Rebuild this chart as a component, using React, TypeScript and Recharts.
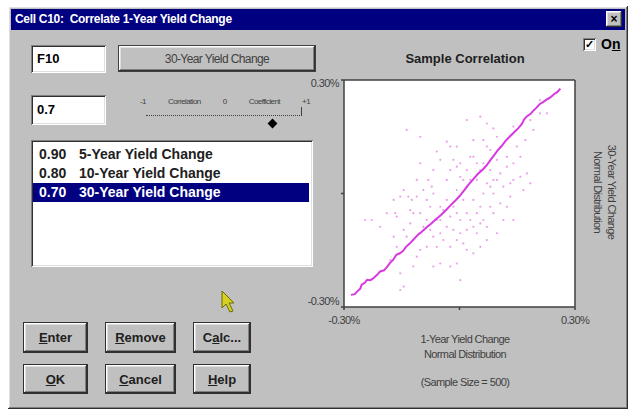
import React from 'react'
import { ScatterChart, Scatter, XAxis, YAxis, ReferenceLine, CartesianGrid } from 'recharts'

// axis ticks (percent)
const X_TICKS = [-0.3, 0, 0.3]
const Y_TICKS = [-0.3, 0, 0.3]

// list box entries
const LIST_VALUES = ['0.90', '0.80', '0.70']
const LIST_NAMES = ['5-Year Yield Change', '10-Year Yield Change', '30-Year Yield Change']

// sorted (rank) line, [1-year, 30-year]
const RANK_LINE: [number, number][] = [
  [-0.282, -0.268], [-0.272, -0.266], [-0.265, -0.258], [-0.258, -0.252], [-0.254, -0.241],
  [-0.246, -0.236], [-0.24, -0.228], [-0.231, -0.229], [-0.224, -0.224], [-0.214, -0.215],
  [-0.206, -0.206], [-0.196, -0.203], [-0.188, -0.194], [-0.181, -0.184], [-0.172, -0.175],
  [-0.164, -0.162], [-0.155, -0.158], [-0.147, -0.152], [-0.139, -0.141], [-0.128, -0.131],
  [-0.118, -0.12], [-0.108, -0.109], [-0.098, -0.101], [-0.086, -0.09], [-0.074, -0.08],
  [-0.062, -0.069], [-0.048, -0.057], [-0.036, -0.045], [-0.024, -0.032], [-0.012, -0.02],
  [0.001, -0.006], [0.012, 0.008], [0.024, 0.024], [0.036, 0.038], [0.048, 0.052],
  [0.06, 0.063], [0.07, 0.074], [0.082, 0.091], [0.092, 0.104], [0.1, 0.115],
  [0.11, 0.126], [0.118, 0.137], [0.128, 0.148], [0.136, 0.156], [0.146, 0.166],
  [0.154, 0.174], [0.162, 0.184], [0.168, 0.196], [0.174, 0.203], [0.184, 0.21],
  [0.192, 0.219], [0.2, 0.227], [0.208, 0.236], [0.216, 0.241], [0.226, 0.248],
  [0.236, 0.254], [0.246, 0.263], [0.254, 0.268], [0.262, 0.277],
]

// sample points, [1-year, 30-year]
const SAMPLES: [number, number][] = [
  [-0.245, -0.07], [-0.228, -0.07], [-0.167, -0.052], [-0.163, -0.061], [-0.154, -0.008],
  [-0.133, -0.008], [-0.124, -0.017], [-0.102, 0.08], [-0.081, 0.036], [-0.072, 0.018],
  [-0.059, 0.111], [-0.05, 0.089], [-0.033, 0.137], [-0.024, 0.124], [-0.016, 0.089],
  [-0.007, 0.071], [0.002, 0.044], [0.01, 0.036], [0.019, 0.018], [0.036, 0.097],
  [0.045, 0.08], [0.054, 0.062], [0.062, 0.141], [0.071, 0.124], [0.08, 0.115],
  [0.088, 0.172], [0.097, 0.15], [0.106, 0.124], [0.123, 0.097], [0.132, 0.027],
  [0.14, 0.036], [0.158, 0.097], [0.171, 0.141], [0.175, 0.053], [0.184, 0.194],
  [0.192, 0.168], [0.209, 0.212], [0.227, 0.212], [0.071, 0.027], [0.08, 0.018],
  [0.088, 0.0], [0.097, 0.036], [0.019, -0.052], [0.028, -0.07], [0.036, -0.088],
  [0.045, -0.052], [0.054, -0.079], [0.002, -0.105], [0.01, -0.132], [0.019, -0.149],
  [-0.007, -0.123], [-0.068, -0.114], [-0.05, -0.105], [-0.042, -0.123], [-0.059, -0.141],
  [-0.102, -0.149], [-0.111, -0.167], [-0.094, -0.088], [-0.085, -0.07], [-0.137, -0.114],
  [-0.128, -0.079], [-0.12, -0.052], [-0.05, -0.185], [-0.068, -0.193], [-0.024, -0.193],
  [-0.007, -0.185], [-0.12, -0.193], [-0.145, -0.246], [-0.154, -0.211], [0.08, -0.035],
  [0.106, -0.026], [0.062, -0.07], [0.123, -0.035], [0.14, -0.07], [0.097, -0.105],
  [0.166, 0.009], [0.184, 0.027], [-0.171, -0.114], [-0.206, -0.088], [-0.189, -0.052],
  [-0.024, -0.061], [-0.016, -0.035], [-0.033, -0.017], [-0.042, -0.044], [-0.076, -0.035],
  [-0.085, -0.017], [-0.102, -0.052], [0.036, -0.017], [0.054, -0.035], [0.028, 0.036],
  [-0.094, 0.009], [-0.111, -0.008], [-0.128, -0.044], [0.106, 0.053], [0.123, 0.071],
  [0.14, 0.08], [0.062, 0.0], [0.088, 0.036], [-0.007, 0.009], [0.01, -0.017],
  [-0.059, -0.07], [-0.033, -0.088], [-0.016, -0.096], [-0.145, -0.096], [-0.163, -0.141],
  [-0.18, -0.176], [0.036, -0.158], [0.054, -0.141], [0.071, -0.123], [0.002, -0.229],
  [-0.154, -0.255], [-0.137, 0.168], [-0.102, 0.15], [0.019, 0.194], [0.054, 0.203],
  [0.071, 0.185], [0.14, 0.177], [0.209, 0.247], [-0.05, -0.035], [-0.068, 0.0],
  [-0.033, 0.036], [-0.024, 0.062], [0.002, 0.08], [0.019, 0.062], [0.028, 0.097],
  [0.045, 0.036], [0.062, 0.08], [0.08, 0.062], [0.097, 0.089], [0.114, 0.018],
  [-0.007, -0.052], [0.002, -0.07], [-0.05, -0.07], [-0.076, -0.096], [-0.102, -0.105],
  [-0.12, -0.123], [-0.085, -0.141], [-0.024, -0.141], [0.019, -0.096], [0.045, -0.105],
  [0.071, -0.088], [0.088, -0.052], [0.114, -0.07], [0.132, -0.008], [0.158, 0.044],
  [0.149, 0.124], [0.036, 0.141], [-0.007, 0.124], [-0.068, 0.062], [-0.111, 0.036],
  [-0.145, 0.009], [-0.171, -0.017],
]

const GRAY = '#c0c0c0'
const NAVY = '#000080'
const UI_FONT = '"Liberation Sans", Arial, sans-serif'

const raised: React.CSSProperties = {
  background: GRAY,
  boxShadow: 'inset -1px -1px #303030, inset 1px 1px #ffffff, inset -2px -2px #808080, inset 2px 2px #dfdfdf',
}
const sunken: React.CSSProperties = {
  background: '#fff',
  boxShadow: 'inset 1px 1px #808080, inset -1px -1px #ffffff, inset 2px 2px #303030, inset -2px -2px #dfdfdf',
}

function Btn({ x, y, w, h, children }: { x: number; y: number; w: number; h: number; children: React.ReactNode }) {
  return (
    <div
      style={{
        ...raised,
        position: 'absolute', left: x, top: y, width: w, height: h,
        display: 'flex', alignItems: 'center', justifyContent: 'center',
        fontFamily: UI_FONT, fontWeight: 'bold', fontSize: 13, color: '#202020',
        border: '1px solid #303030', boxSizing: 'border-box',
      }}
    >
      {children}
    </div>
  )
}

function YTick(props: any) {
  const { x, y, payload } = props
  const v = payload.value
  if (v === 0) return null
  const dy = v > 0 ? 7 : -2
  return (
    <text x={x} y={y + dy} textAnchor="end" fontSize={11} fill="#404040" fontFamily={UI_FONT} letterSpacing={-0.6}>
      {`${v.toFixed(2)}%`}
    </text>
  )
}

function Dot(props: any) {
  return <circle cx={props.cx} cy={props.cy} r={1.1} fill="#d860d8" fillOpacity={0.6} />
}

export default function App() {
  const lineData = RANK_LINE.map(([x, y]) => ({ x, y }))
  const sampleData = SAMPLES.map(([x, y]) => ({ x, y }))
  const small: React.CSSProperties = { fontFamily: UI_FONT, fontSize: 11, color: '#404040', letterSpacing: -0.6 }

  return (
    <div style={{ position: 'absolute', left: 0, top: 0, width: 632, height: 411, background: '#fff', overflow: 'hidden' }}>
      {/* dialog frame */}
      <div style={{ ...raised, position: 'absolute', left: 8, top: 6, width: 620, height: 403 }} />
      <div
        style={{
          position: 'absolute', left: 11, top: 9, width: 614, height: 21, background: NAVY, color: '#fff',
          fontFamily: UI_FONT, fontWeight: 'bold', fontSize: 12, lineHeight: '21px', paddingLeft: 4, boxSizing: 'border-box',
          letterSpacing: -0.3,
        }}
      >
        Cell C10:&nbsp; Correlate 1-Year Yield Change
      </div>
      <div style={{ ...raised, position: 'absolute', left: 606, top: 11, width: 16, height: 16, fontSize: 12, fontWeight: 'bold', textAlign: 'center', lineHeight: '16px', fontFamily: UI_FONT }}>
        ×
      </div>

      {/* cell reference + target */}
      <div style={{ ...sunken, position: 'absolute', left: 31, top: 45, width: 75, height: 28, fontFamily: UI_FONT, fontWeight: 'bold', fontSize: 13, lineHeight: '28px', paddingLeft: 6, boxSizing: 'border-box' }}>
        F10
      </div>
      <div
        style={{
          ...raised, position: 'absolute', left: 118, top: 45, width: 198, height: 27, border: '1px solid #404040', boxSizing: 'border-box',
          ...small, fontSize: 12, display: 'flex', alignItems: 'center', justifyContent: 'center',
        }}
      >
        30-Year Yield Change
      </div>

      {/* coefficient box + slider */}
      <div style={{ ...sunken, position: 'absolute', left: 31, top: 95, width: 75, height: 30, fontFamily: UI_FONT, fontWeight: 'bold', fontSize: 13, lineHeight: '30px', paddingLeft: 6, boxSizing: 'border-box' }}>
        0.7
      </div>
      <div style={{ ...small, fontSize: 8, position: 'absolute', left: 140, top: 97, width: 170, display: 'flex', justifyContent: 'space-between' }}>
        <span>-1</span><span>Correlation</span><span>0</span><span>Coefficient</span><span>+1</span>
      </div>
      <div style={{ position: 'absolute', left: 146, top: 115, width: 156, borderTop: '1px dotted #404040' }} />
      <div style={{ position: 'absolute', left: 301, top: 107, height: 9, borderLeft: '1px solid #404040' }} />
      <div style={{ position: 'absolute', left: 269, top: 120, width: 7, height: 7, background: '#000', transform: 'rotate(45deg)' }} />

      {/* correlation list */}
      <div style={{ ...sunken, position: 'absolute', left: 31, top: 140, width: 282, height: 127 }}>
        {LIST_VALUES.map((v, i) => (
          <div
            key={v}
            style={{
              position: 'absolute', left: 2, top: 5 + i * 19, width: 276, height: 19,
              background: i === 2 ? NAVY : 'transparent', color: i === 2 ? '#fff' : '#202020',
              fontFamily: UI_FONT, fontWeight: 'bold', fontSize: 14, lineHeight: '19px', whiteSpace: 'nowrap',
            }}
          >
            <span style={{ display: 'inline-block', width: 40, paddingLeft: 6 }}>{v}</span>
            {LIST_NAMES[i]}
          </div>
        ))}
      </div>

      {/* mouse pointer */}
      <svg style={{ position: 'absolute', left: 220, top: 290 }} width={16} height={24}>
        <polygon points="2,1 2,18 6,14 10,22 13,21 9,13 14,13" fill="#d8d020" stroke="#6a6a00" strokeWidth={1} />
      </svg>

      {/* buttons */}
      <Btn x={23} y={322} w={65} h={31}><span><u>E</u>nter</span></Btn>
      <Btn x={105} y={322} w={71} h={31}><span><u>R</u>emove</span></Btn>
      <Btn x={193} y={322} w={58} h={31}><span>C<u>a</u>lc...</span></Btn>
      <Btn x={23} y={364} w={65} h={30}><span><u>O</u>K</span></Btn>
      <Btn x={105} y={364} w={71} h={30}><span><u>C</u>ancel</span></Btn>
      <Btn x={193} y={364} w={58} h={30}><span><u>H</u>elp</span></Btn>

      {/* On checkbox */}
      <div style={{ ...sunken, position: 'absolute', left: 583, top: 38, width: 13, height: 13, fontSize: 11, lineHeight: '13px', textAlign: 'center', fontWeight: 'bold' }}>
        ✓
      </div>
      <div style={{ position: 'absolute', left: 601, top: 36, fontFamily: UI_FONT, fontWeight: 'bold', fontSize: 14 }}>
        O<u>n</u>
      </div>

      {/* chart titles */}
      <div style={{ position: 'absolute', left: 380, top: 51, width: 170, textAlign: 'center', fontFamily: UI_FONT, fontWeight: 'bold', fontSize: 13, color: '#202020' }}>
        Sample Correlation
      </div>
      <div style={{ ...small, position: 'absolute', left: 380, top: 332, width: 170, textAlign: 'center', lineHeight: '15px' }}>
        1-Year Yield Change<br />Normal Distribution
      </div>
      <div style={{ ...small, position: 'absolute', left: 380, top: 376, width: 170, textAlign: 'center' }}>
        (Sample Size = 500)
      </div>
      <div
        style={{
          ...small, position: 'absolute', left: 540, top: 178, width: 130, textAlign: 'center', lineHeight: '14px',
          transform: 'rotate(90deg)', transformOrigin: 'center',
        }}
      >
        30-Year Yield Change<br />Normal Distribution
      </div>

      <ScatterChart
        width={632}
        height={411}
        margin={{ top: 80, right: 57, left: 304, bottom: 74 }}
        style={{ position: 'absolute', left: 0, top: 0 }}
      >
        <CartesianGrid horizontal={false} vertical={false} fill="#ffffff" fillOpacity={1} />
        <XAxis
          type="number"
          dataKey="x"
          domain={[-0.3, 0.3]}
          ticks={X_TICKS}
          height={30}
          tickSize={3}
          tickMargin={6}
          stroke="#404040"
          strokeWidth={1.5}
          tick={{ fontSize: 11, fill: '#404040', fontFamily: UI_FONT, letterSpacing: -0.6 }}
          tickFormatter={(v: number) => (v === 0 ? '' : `${v.toFixed(2)}%`)}
        />
        <YAxis
          type="number"
          dataKey="y"
          domain={[-0.3, 0.3]}
          ticks={Y_TICKS}
          width={40}
          tickSize={3}
          tickMargin={2}
          stroke="#404040"
          strokeWidth={1.5}
          tick={<YTick />}
        />
        <ReferenceLine y={0.3} stroke="#404040" strokeWidth={1.5} />
        <ReferenceLine x={0.3} stroke="#404040" strokeWidth={1.5} />
        <Scatter data={sampleData} shape={<Dot />} isAnimationActive={false} />
        <Scatter
          data={lineData}
          line={{ stroke: '#d838e0', strokeWidth: 2 }}
          lineType="joint"
          shape={() => <g />}
          isAnimationActive={false}
        />
      </ScatterChart>
    </div>
  )
}
